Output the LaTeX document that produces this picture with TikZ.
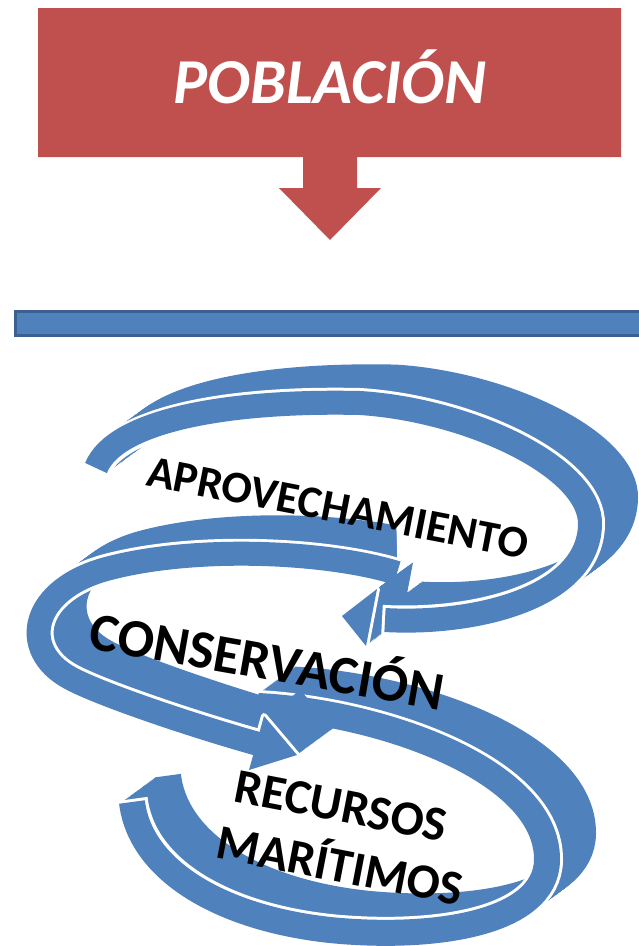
\documentclass[tikz,border=0pt]{standalone}
\usepackage{fontspec}
\setmainfont{Carlito}
\definecolor{blu}{HTML}{4F81BD}
\definecolor{redc}{HTML}{C0504D}
\definecolor{bard}{HTML}{3A6190}
\newcommand\bodyA[1]{\path[#1] (96,468) .. controls (115,420) and (230,400) .. (360,403) .. controls (470,410) and (592,468) .. (590,525) .. controls (588,600) and (470,625) .. (385,620);}
\newcommand\tipA[1]{\path[#1] (377,589) -- (342,616) -- (366,646) -- cycle;}
\newcommand\bodyB[1]{\path[#1] (397,573) .. controls (330,552) and (200,545) .. (110,568) .. controls (30,588) and (18,650) .. (70,678) .. controls (101,695) and (200,728) .. (262,745);}
\newcommand\tipB[1]{\path[#1] (264,716) -- (297,755) -- (249,770) -- cycle;}
\newcommand\bodyC[1]{\path[#1] (258,706) .. controls (380,712) and (548,770) .. (547,860) .. controls (546,925) and (430,940) .. (330,930) .. controls (220,918) and (140,870) .. (132,802);}
\newcommand\notip[1]{}
\newcommand\rib[5]{%
  \begin{scope}
  \clip #5;
  \foreach \k in {1,...,30}{
    \begin{scope}[shift={(1.2*\k,-0.88*\k)}]
      #1{draw=blu, line width=#3}
      #2{fill=blu}
    \end{scope}
  }
  \end{scope}
  #1{draw=white, line width=#4, shorten <=-3pt, shorten >=-3pt}
  #2{draw=white, line width=6pt, fill=white, line join=round}
  #1{draw=blu, line width=#3}
  #2{fill=blu}
}
\tikzset{
  lbl/.style={font=\fontsize{#1}{#1}\selectfont\bfseries, text=black, inner sep=0pt, text depth=0pt}
}
\begin{document}
\begin{tikzpicture}[x=1pt,y=-1pt]
\useasboundingbox (0,0) rectangle (638,946);
\fill[white] (0,0) rectangle (638,946);
% callout
\fill[redc] (38,8) -- (621,8) -- (621,157) -- (357,157) -- (357,188) -- (381,188) -- (330,240) -- (279,188) -- (303,188) -- (303,157) -- (38,157) -- cycle;
\node[font=\fontsize{64}{64}\selectfont\bfseries\itshape, text=white, text height=41pt, text depth=0pt, inner sep=0pt] (pob) at (330,83) {POBLACIÓN};
% bar
\fill[bard] (14,310) rectangle (640,337);
\fill[blu] (17,313) rectangle (640,334);
% ribbons
\rib{\bodyC}{\notip}{26pt}{32pt}{(0,0) rectangle (638,946)}
\rib{\bodyB}{\tipB}{24pt}{30pt}{(0,0) rectangle (396,946) (396,577) rectangle (638,946)}
\rib{\bodyA}{\tipA}{24pt}{30pt}{(0,0) rectangle (638,946)}
% labels
\node[lbl=45, text height=29pt, rotate=-11] (apr) at (338,508) {APROVECHAMIENTO};
\node[lbl=54, text height=35pt, rotate=-10] (con) at (267,662) {CONSERVACIÓN};
\node[lbl=49, text height=32pt, rotate=-11] (rec) at (341,806) {RECURSOS};
\node[lbl=49, text height=32pt, rotate=-11] (mar) at (340,866) {MARÍTIMOS};
\end{tikzpicture}
\end{document}
